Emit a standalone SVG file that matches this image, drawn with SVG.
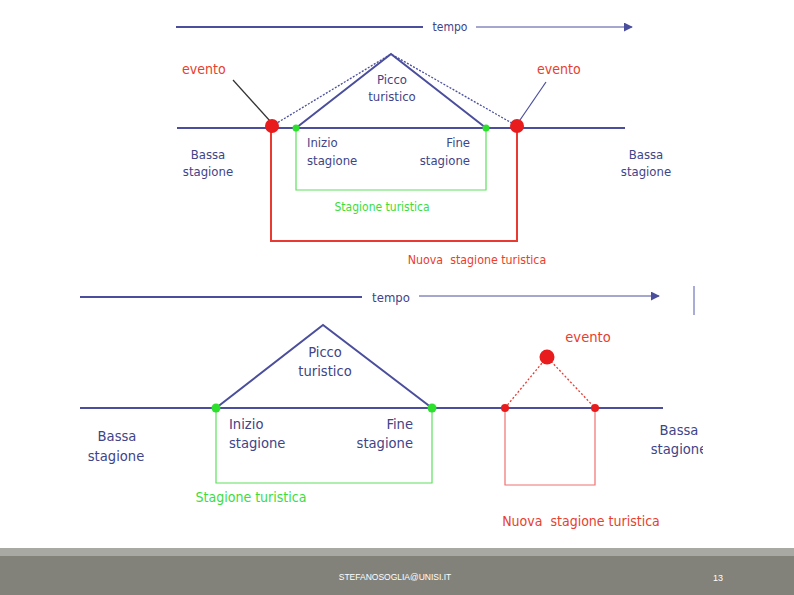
<svg xmlns="http://www.w3.org/2000/svg" width="794" height="595" viewBox="0 0 794 595">
<defs>
<style>
text{font-family:"DejaVu Sans Condensed","Liberation Sans",sans-serif;font-size:13px;}
.b{fill:#404488;}
.r{fill:#e8402d;}
.g{fill:#3ddc3d;}
.s12{font-size:12px;}
.s125{font-size:12.3px;}
.s14{font-size:14px;}
.s15{font-size:14.6px;}
.ax{stroke:#4a4e9c;stroke-width:1.8;fill:none;}
.ax2{stroke:#4a4e9c;stroke-width:1;fill:none;}
.pk{stroke:#4a4e9c;stroke-width:2;fill:none;}
.dot{stroke:#4a4e9c;stroke-width:1.3;stroke-dasharray:2 1.5;fill:none;}
.gr{stroke:#5ee05e;stroke-width:1.2;fill:none;}
.rr{stroke:#e83a30;stroke-width:2;fill:none;}
.rr2{stroke:#f07070;stroke-width:1.2;fill:none;}
.rd{stroke:#e83a30;stroke-width:1.3;stroke-dasharray:2 2;fill:none;}
.ft{fill:#ffffff;font-family:"Liberation Sans Narrow","Liberation Sans",sans-serif;}
</style>
<marker id="ah" viewBox="0 0 10 10" refX="9" refY="5" markerWidth="9" markerHeight="9" markerUnits="userSpaceOnUse" orient="auto">
<path d="M0,0 L10,5 L0,10 z" fill="#4a4e9c"/>
</marker>
<clipPath id="clipR"><rect x="0" y="0" width="703" height="595"/></clipPath>
</defs>
<rect width="794" height="595" fill="#ffffff"/>

<g id="connectors">
<line class="ax" x1="176" y1="27" x2="423" y2="27"/>
<line class="ax2" x1="476" y1="27" x2="632" y2="27" marker-end="url(#ah)"/>
<line class="ax" x1="177" y1="128" x2="625" y2="128"/>
<polyline class="pk" points="296,128 391,54 486,128"/>
<polyline class="dot" points="272,126 391,54 517,126"/>
<line stroke="#333" stroke-width="1.2" x1="233" y1="80" x2="270" y2="121"/>
<line stroke="#4a4e9c" stroke-width="1.2" x1="546" y1="82" x2="520" y2="120"/>
<polyline class="gr" points="296,128 296,190 486,190 486,128"/>
<polyline class="rr" points="271,128 271,241 517,241 517,128"/>
<line class="ax" x1="80" y1="297" x2="362" y2="297"/>
<line class="ax2" x1="419" y1="296" x2="659" y2="296" marker-end="url(#ah)"/>
<line stroke="#8c90c8" stroke-width="1.5" x1="694" y1="286" x2="694" y2="315"/>
<line class="ax" x1="80" y1="408" x2="663" y2="408"/>
<polyline class="pk" points="216,408 323,325 432,408"/>
<polyline class="rd" points="505,408 547,357 595,408"/>
<polyline class="gr" points="216,408 216,483 432,483 432,408"/>
<polyline class="rr2" points="505,408 505,485 595,485 595,408"/>
</g>

<g id="top-event-left"><circle cx="272" cy="126" r="7" fill="#e81c1c"/><text class="r s14" x="182" y="74">evento</text></g>
<g id="top-event-right"><circle cx="517" cy="126" r="7" fill="#e81c1c"/><text class="r s14" x="537" y="74">evento</text></g>
<g id="top-start"><circle cx="296" cy="128" r="3.5" fill="#2ee02e"/><text class="b" x="307" y="147">Inizio</text><text class="b" x="307" y="165">stagione</text></g>
<g id="top-end"><circle cx="486" cy="128" r="3.5" fill="#2ee02e"/><text class="b" x="470" y="147" text-anchor="end">Fine</text><text class="b" x="470" y="165" text-anchor="end">stagione</text></g>
<g id="top-peak"><text class="b" x="392" y="84" text-anchor="middle">Picco</text><text class="b" x="392" y="101" text-anchor="middle">turistico</text></g>
<g id="top-tempo"><text class="b s12" x="450" y="31" text-anchor="middle">tempo</text></g>
<g id="top-bassa-left"><text class="b" x="208" y="159" text-anchor="middle">Bassa</text><text class="b" x="208" y="176" text-anchor="middle">stagione</text></g>
<g id="top-bassa-right"><text class="b" x="646" y="159" text-anchor="middle">Bassa</text><text class="b" x="646" y="176" text-anchor="middle">stagione</text></g>
<g id="top-stagione"><text class="g s12" x="382" y="211" text-anchor="middle">Stagione turistica</text></g>
<g id="top-nuova"><text class="r s125" x="477" y="264" text-anchor="middle">Nuova&#160;&#160;stagione turistica</text></g>

<g id="bot-tempo"><text class="b" x="391" y="302" text-anchor="middle">tempo</text></g>
<g id="bot-peak"><text class="b s15" x="325" y="357" text-anchor="middle">Picco</text><text class="b s15" x="325" y="376" text-anchor="middle">turistico</text></g>
<g id="bot-start"><circle cx="216" cy="408" r="4.5" fill="#2ee02e"/><text class="b s15" x="229" y="429">Inizio</text><text class="b s15" x="229" y="448">stagione</text></g>
<g id="bot-end"><circle cx="432" cy="408" r="4.5" fill="#2ee02e"/><text class="b s15" x="413" y="429" text-anchor="end">Fine</text><text class="b s15" x="413" y="448" text-anchor="end">stagione</text></g>
<g id="bot-bassa-left"><text class="b s15" x="117" y="441" text-anchor="middle">Bassa</text><text class="b s15" x="116" y="461" text-anchor="middle">stagione</text></g>
<g id="bot-bassa-right" clip-path="url(#clipR)"><text class="b s15" x="679" y="435" text-anchor="middle">Bassa</text><text class="b s15" x="679" y="454" text-anchor="middle">stagione</text></g>
<g id="bot-event"><circle cx="547" cy="357" r="7.5" fill="#e81c1c"/><text class="r s15" x="588" y="342" text-anchor="middle">evento</text></g>
<g id="bot-event-start"><circle cx="505" cy="408" r="4" fill="#e81c1c"/></g>
<g id="bot-event-end"><circle cx="595" cy="408" r="4" fill="#e81c1c"/></g>
<g id="bot-stagione"><text class="g s14" x="251" y="502" text-anchor="middle">Stagione turistica</text></g>
<g id="bot-nuova"><text class="r s14" x="581" y="526" text-anchor="middle">Nuova&#160;&#160;stagione turistica</text></g>

<g id="footer">
<rect x="0" y="548" width="794" height="8" fill="#a9a9a4"/>
<rect x="0" y="556" width="794" height="39" fill="#82827a"/>
<text class="ft" x="395" y="580" text-anchor="middle" style="font-size:8.5px">STEFANOSOGLIA@UNISI.IT</text>
<text class="ft" x="718" y="581" text-anchor="middle" style="font-size:9px">13</text>
</g>
</svg>
